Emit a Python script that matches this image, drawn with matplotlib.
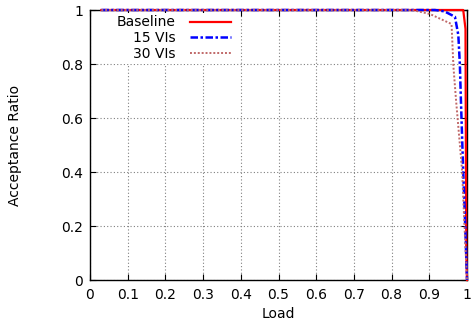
import matplotlib.pyplot as plt

# values
baseline_load = [0.03, 0.5, 0.99, 0.996, 0.998, 1.0]
baseline_ratio = [1, 1, 1, 0.93, 0.1, 0]

vms15_load = [0.03, 0.5, 0.915, 0.94, 0.968, 0.977, 0.981, 0.984, 0.99, 0.995, 1.0]
vms15_ratio = [1, 1, 1, 0.995, 0.975, 0.907, 0.80, 0.66, 0.40, 0.21, 0]

vms30_load = [0.03, 0.5, 0.855, 0.902, 0.959, 0.964, 0.971, 0.987, 0.993, 1.0]
vms30_ratio = [1, 1, 1, 0.985, 0.948, 0.79, 0.665, 0.405, 0.21, 0]

x_ticks = [0, 0.1, 0.2, 0.3, 0.4, 0.5, 0.6, 0.7, 0.8, 0.9, 1]
x_labels = ['0', '0.1', '0.2', '0.3', '0.4', '0.5', '0.6', '0.7', '0.8', '0.9', '1']
y_ticks = [0, 0.2, 0.4, 0.6, 0.8, 1]
y_labels = ['0', '0.2', '0.4', '0.6', '0.8', '1']

fig = plt.figure(figsize=(4.76, 3.3), dpi=100)
ax = fig.add_axes([90 / 476, 1 - 280 / 330, 377 / 476, 270 / 330])

ax.plot(baseline_load, baseline_ratio, color='#ff0000', lw=1.6,
        label='Baseline', clip_on=False, zorder=3)
ax.plot(vms15_load, vms15_ratio, color='#0000ff', lw=1.8,
        linestyle=(0, (3, 1, 1, 1)), label='15 VIs', clip_on=False, zorder=4)
ax.plot(vms30_load, vms30_ratio, color='#c06868', lw=1.4,
        linestyle=(0, (1, 1)), label='30 VIs', clip_on=False, zorder=5)

ax.set_xlim(0, 1)
ax.set_ylim(0, 1)
ax.set_xticks(x_ticks)
ax.set_xticklabels(x_labels)
ax.set_yticks(y_ticks)
ax.set_yticklabels(y_labels)
ax.tick_params(direction='in', top=True, right=True, length=4, labelsize=10)
ax.tick_params(axis='x', pad=6)
ax.tick_params(axis='y', pad=5)
ax.grid(True, color='0.5', linestyle=(0, (1, 2)), linewidth=0.8)
for s in ax.spines.values():
    s.set_linewidth(1.0)

ax.set_xlabel('Load', fontsize=10, labelpad=3)
ax.set_ylabel('Acceptance Ratio', fontsize=10, labelpad=28)

leg = ax.legend(loc='upper right', bbox_to_anchor=(0.401, 1.016),
                markerfirst=False, fontsize=10, handlelength=3.0,
                handletextpad=1.0, labelspacing=0.13, borderpad=0.2,
                frameon=True, fancybox=False, framealpha=1,
                facecolor='white', edgecolor='none')
leg.set_zorder(10)

fig.savefig('out.png', dpi=100)
